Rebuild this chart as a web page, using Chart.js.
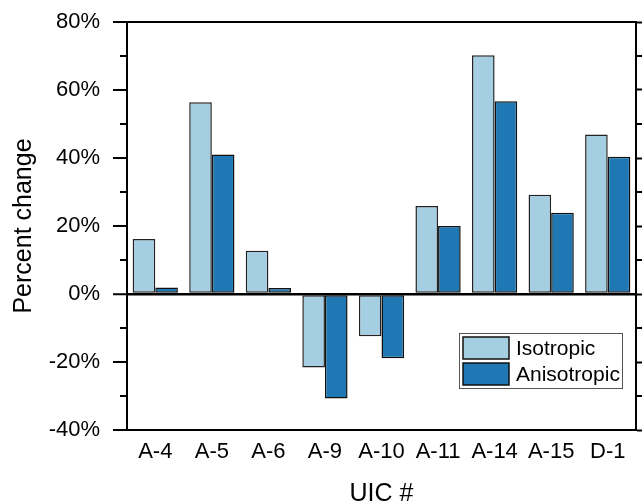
<!DOCTYPE html>
<html>
<head>
<meta charset="utf-8">
<script src="https://cdn.jsdelivr.net/npm/chart.js@4/dist/chart.umd.min.js"></script>
<style>
html,body{margin:0;padding:0;background:#fff;}
#wrap{width:642px;height:503px;position:relative;}
</style>
</head>
<body>
<div id="wrap"><canvas id="c" width="642" height="503"></canvas></div>
<script>
const categories = ['A-4','A-5','A-6','A-9','A-10','A-11','A-14','A-15','D-1'];
const isotropic = [16.2, 56.4, 12.7, -21.6, -12.4, 25.9, 70.2, 29.2, 46.9];
const anisotropic = [1.9, 41.0, 1.8, -30.7, -18.9, 20.0, 56.7, 23.9, 40.4];
const seriesLabels = ['Isotropic', 'Anisotropic'];
const seriesColors = ['#a6cee3', '#1f78b4'];
const yMin = -40, yMax = 80, yMajorStep = 20, yMinorStep = 10;
const xTitle = 'UIC #';
const yTitle = 'Percent change';

const FONT = '"Liberation Sans", Arial, sans-serif';

const minorTicks = {
  id: 'minorTicks',
  afterDraw(chart) {
    const ctx = chart.ctx, ys = chart.scales.y, a = chart.chartArea;
    ctx.save();
    ctx.strokeStyle = '#000';
    ctx.lineWidth = 2;
    for (let v = yMin; v <= yMax; v += yMinorStep) {
      if (v % yMajorStep === 0) continue;
      const p = Math.round(ys.getPixelForValue(v));
      ctx.beginPath();
      ctx.moveTo(a.left - 7, p); ctx.lineTo(a.left, p);
      ctx.moveTo(a.right, p); ctx.lineTo(a.right + 7, p);
      ctx.stroke();
    }
    ctx.restore();
  }
};

const boxLegend = {
  id: 'boxLegend',
  afterDraw(chart) {
    const ctx = chart.ctx, a = chart.chartArea;
    const bx = a.right - 177, by = a.top + 311, bw = 163, bh = 55;
    ctx.save();
    ctx.fillStyle = '#fff';
    ctx.fillRect(bx, by, bw, bh);
    ctx.strokeStyle = '#555';
    ctx.lineWidth = 1;
    ctx.strokeRect(bx + 0.5, by + 0.5, bw, bh);
    chart.data.datasets.forEach((ds, i) => {
      const sx = bx + 4, sy = by + 4 + i * 26;
      ctx.fillStyle = ds.backgroundColor;
      ctx.fillRect(sx, sy, 46, 22);
      ctx.strokeStyle = '#111';
      ctx.lineWidth = 1.5;
      ctx.strokeRect(sx, sy, 46, 22);
      ctx.fillStyle = '#000';
      ctx.font = '21px ' + FONT;
      ctx.textAlign = 'left';
      ctx.textBaseline = 'middle';
      ctx.fillText(ds.label, bx + 57, sy + 12);
    });
    ctx.restore();
  }
};

new Chart(document.getElementById('c'), {
  type: 'bar',
  data: {
    labels: categories,
    datasets: [
      { label: seriesLabels[0], data: isotropic, backgroundColor: seriesColors[0], borderColor: '#222', borderWidth: 1.5, borderSkipped: false, yAxisID: 'y' },
      { label: seriesLabels[1], data: anisotropic, backgroundColor: seriesColors[1], borderColor: '#111', borderWidth: 1.5, borderSkipped: false, yAxisID: 'y' }
    ]
  },
  options: {
    responsive: false,
    animation: false,
    devicePixelRatio: 1,
    layout: { padding: { top: 22, left: 0, right: 0, bottom: 0 } },
    datasets: { bar: { categoryPercentage: 0.8, barPercentage: 1.0 } },
    plugins: { legend: { display: false }, tooltip: { enabled: false }, title: { display: false } },
    scales: {
      x: {
        position: 'bottom',
        grid: { display: true, drawOnChartArea: false, drawTicks: false },
        border: { display: true, color: '#000', width: 2 },
        ticks: { color: '#000', font: { family: FONT, size: 22 }, padding: 9, maxRotation: 0, autoSkip: false },
        title: { display: true, text: xTitle, color: '#000', font: { family: FONT, size: 25, lineHeight: 1 }, padding: { top: 0, bottom: -4 } },
        afterFit(s) { s.height = 73; s.paddingLeft = 0; s.paddingRight = 0; }
      },
      xTop: {
        position: 'top',
        grid: { display: true, drawOnChartArea: false, drawTicks: false },
        border: { display: true, color: '#000', width: 2 },
        ticks: { display: false },
        afterFit(s) { s.height = 0; s.paddingLeft = 0; s.paddingRight = 0; }
      },
      y: {
        position: 'left',
        min: yMin, max: yMax,
        ticks: { stepSize: yMajorStep, color: '#000', font: { family: FONT, size: 22 }, padding: 13, callback: v => v + '%' },
        grid: {
          drawOnChartArea: true,
          drawTicks: true,
          tickLength: 14,
          tickColor: '#000',
          tickWidth: 2,
          color: c => (c.tick && c.tick.value === 0) ? '#000' : 'rgba(0,0,0,0)',
          lineWidth: c => (c.tick && c.tick.value === 0) ? 2.5 : 0
        },
        border: { display: true, color: '#000', width: 2 },
        title: { display: true, text: yTitle, color: '#000', font: { family: FONT, size: 25 }, padding: { top: 9, bottom: 0 } },
        afterFit(s) { s.width = 127; s.paddingTop = 0; s.paddingBottom = 0; }
      },
      yRight: {
        position: 'right',
        min: yMin, max: yMax,
        ticks: { display: false, stepSize: yMajorStep },
        grid: { drawOnChartArea: false, drawTicks: true, tickLength: 14, tickColor: '#000', tickWidth: 2 },
        border: { display: true, color: '#000', width: 2 },
        afterFit(s) { s.width = 6; s.paddingTop = 0; s.paddingBottom = 0; }
      }
    }
  },
  plugins: [minorTicks, boxLegend]
});
</script>
</body>
</html>
